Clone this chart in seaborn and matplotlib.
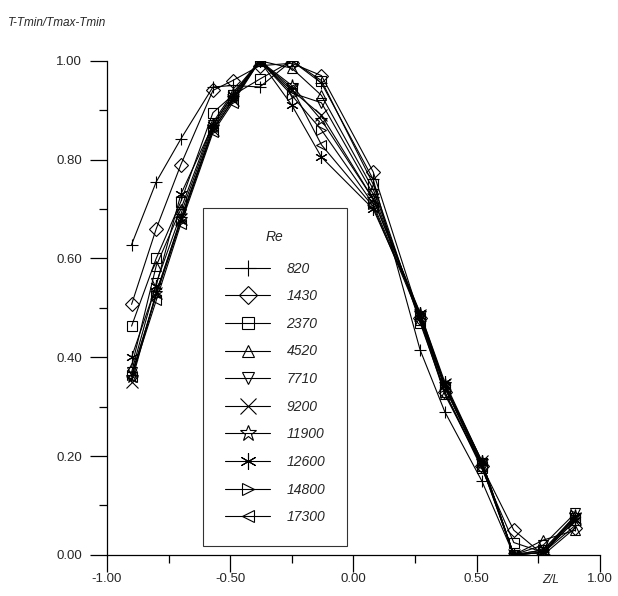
import pandas as pd
import matplotlib.pyplot as plt
import seaborn as sns

# Axial positions (Z/L)
z_pos = [-0.9, -0.8, -0.7, -0.57, -0.49, -0.38, -0.25, -0.13, 0.08, 0.27, 0.37, 0.52, 0.65, 0.77, 0.9]

# Reynolds numbers and normalised temperature profiles
re_labels = ['820', '1430', '2370', '4520', '7710', '9200', '11900', '12600', '14800', '17300']
t_820 = [0.628, 0.755, 0.842, 0.947, 0.95, 0.947, 1.00, 0.955, 0.76, 0.415, 0.29, 0.15, 0.0, 0.005, 0.06]
t_1430 = [0.507, 0.66, 0.79, 0.94, 0.96, 0.99, 0.995, 0.97, 0.775, 0.48, 0.33, 0.18, 0.05, 0.0, 0.055]
t_2370 = [0.463, 0.60, 0.715, 0.895, 0.93, 0.963, 1.00, 0.96, 0.75, 0.47, 0.33, 0.175, 0.025, 0.005, 0.07]
t_4520 = [0.38, 0.585, 0.70, 0.875, 0.935, 1.0, 0.985, 0.93, 0.74, 0.475, 0.325, 0.18, 0.0, 0.03, 0.05]
t_7710 = [0.37, 0.55, 0.69, 0.87, 0.93, 1.0, 0.935, 0.915, 0.73, 0.48, 0.34, 0.185, 0.0, 0.02, 0.085]
t_9200 = [0.35, 0.53, 0.68, 0.86, 0.92, 1.0, 0.94, 0.89, 0.72, 0.485, 0.345, 0.19, 0.0, 0.005, 0.075]
t_11900 = [0.36, 0.53, 0.68, 0.865, 0.925, 1.0, 0.95, 0.88, 0.72, 0.49, 0.345, 0.19, 0.0, 0.005, 0.08]
t_12600 = [0.40, 0.545, 0.73, 0.87, 0.93, 1.0, 0.91, 0.805, 0.70, 0.49, 0.35, 0.19, 0.0, 0.005, 0.07]
t_14800 = [0.365, 0.525, 0.675, 0.86, 0.92, 1.0, 0.93, 0.86, 0.71, 0.485, 0.34, 0.185, 0.0, 0.01, 0.08]
t_17300 = [0.36, 0.515, 0.67, 0.855, 0.915, 1.0, 0.945, 0.83, 0.705, 0.48, 0.34, 0.18, 0.0, 0.01, 0.075]

profiles = [t_820, t_1430, t_2370, t_4520, t_7710, t_9200, t_11900, t_12600, t_14800, t_17300]
marker_list = ['+', 'D', 's', '^', 'v', 'x', '*', (6, 2, 0), '>', '<']

sns.set_style("ticks")
plt.rcParams['font.family'] = ['Liberation Sans', 'DejaVu Sans']

fig = plt.figure(figsize=(6.18, 5.96), dpi=100)
ax = fig.add_axes([0.173, 0.069, 0.798, 0.829])

for label, vals, mk in zip(re_labels, profiles, marker_list):
    df = pd.DataFrame({'z': z_pos, 't': vals})
    ms = 9 if mk in ('+', 'x', (6, 2, 0), '*') else 7
    sns.lineplot(data=df, x='z', y='t', ax=ax, sort=False, color='black',
                 linewidth=0.8, marker=mk, markersize=ms, markerfacecolor='none',
                 markeredgecolor='black', markeredgewidth=0.8, label=label)

ax.set_xlim(-1, 1)
ax.set_ylim(0, 1)
ax.set_xticks([-1.0, -0.5, 0.0, 0.5, 1.0])
ax.set_xticklabels(['-1.00', '-0.50', '0.00', '0.50', '1.00'])
ax.set_xticks([-0.75, -0.25, 0.25, 0.75], minor=True)
ax.set_yticks([0.0, 0.2, 0.4, 0.6, 0.8, 1.0])
ax.set_yticklabels(['0.00', '0.20', '0.40', '0.60', '0.80', '1.00'])
ax.set_yticks([0.1, 0.3, 0.5, 0.7, 0.9], minor=True)
ax.tick_params(axis='both', which='major', length=12, width=0.9, labelsize=9.5, color='black')
ax.tick_params(axis='both', which='minor', length=5.5, width=0.9, color='black')
ax.tick_params(axis='x', which='major', pad=1)
ax.tick_params(axis='y', which='major', pad=6)
ax.set_xlabel('')
ax.set_ylabel('')
sns.despine(ax=ax)
for sp in ['left', 'bottom']:
    ax.spines[sp].set_linewidth(0.9)
    ax.spines[sp].set_color('black')

leg = ax.legend(title='Re', loc='upper left', bbox_to_anchor=(0.195, 0.702),
                frameon=True, fancybox=False, edgecolor='black', fontsize=10,
                title_fontsize=10, markerscale=1.3, handlelength=3.3,
                handletextpad=1.15, labelspacing=0.98, borderpad=1.55, borderaxespad=0)
leg._legend_box.sep = 13
leg.get_frame().set_linewidth(0.8)
leg.get_title().set_style('italic')
for t in leg.get_texts():
    t.set_style('italic')

fig.text(0.013, 0.962, 'T-Tmin/Tmax-Tmin', fontsize=8.5, style='italic', va='center')
ax.text(0.90, -0.05, 'Z/L', transform=ax.transAxes, fontsize=8.5, style='italic',
        ha='center', va='center')

fig.savefig('out.png', dpi=100)
